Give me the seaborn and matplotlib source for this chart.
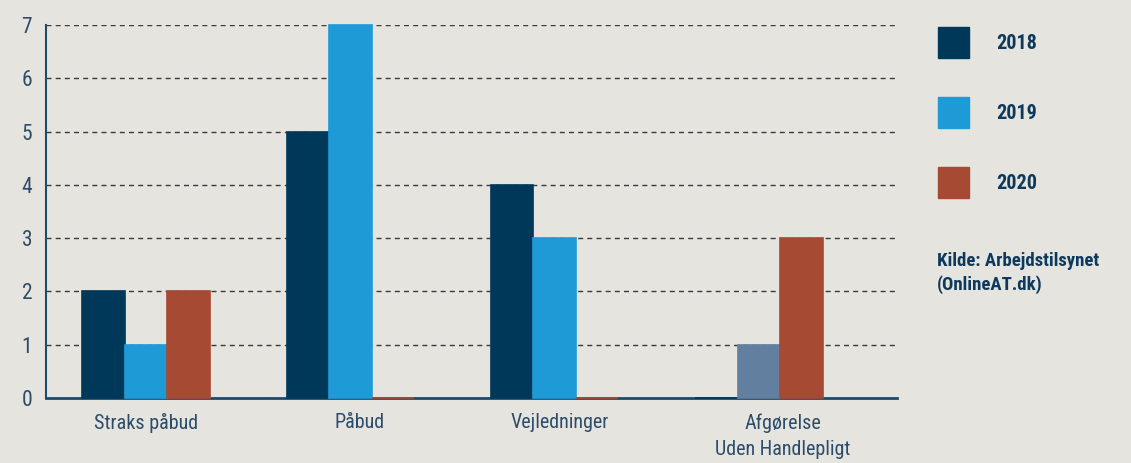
import pandas as pd
import matplotlib.pyplot as plt
import matplotlib.transforms as mtransforms
import seaborn as sns
from matplotlib.patches import Patch

# data
categories = ['Straks påbud', 'Påbud', 'Vejledninger', 'Afgørelse\nUden Handlepligt']
years = ['2018', '2019', '2020']
v2018 = [2, 5, 4, 0]
v2019 = [1, 7, 3, 1]
v2020 = [2, 0, 0, 3]
group_ticks = [0.509, 1.615, 2.50, 3.46]
label_shift_px = [0, 9, 5, 24]

colors = ['#003859', '#1e9ad6', '#a64a33']
bg = '#e6e4df'
navy = '#1f4a6b'

df = pd.DataFrame({
    'kategori': categories * 3,
    'år': [y for y in years for _ in categories],
    'antal': v2018 + v2019 + v2020,
})

sns.set_style('white')
plt.rcParams['font.family'] = ['Roboto Condensed', 'Roboto', 'DejaVu Sans']

fig = plt.figure(figsize=(11.31, 4.63), dpi=100, facecolor=bg)
ax = fig.add_axes([0.0407, 0.1404, 0.7524, 0.8056])
ax.set_facecolor(bg)

sns.barplot(data=df, x='kategori', y='antal', hue='år', palette=colors,
            width=0.625, gap=0, saturation=1, legend=False, ax=ax, zorder=3)
for cont, c in zip(ax.containers, colors):
    for bar in cont:
        bar.set_edgecolor(c)
        bar.set_linewidth(1.2)
        bar.set_clip_on(False)
# the 2019 bar for the last group is drawn in a muted blue in the original
ax.containers[1][3].set_facecolor('#637f9f')
ax.containers[1][3].set_edgecolor('#637f9f')

ax.set_xlim(-0.49, 3.676)
ax.set_ylim(0, 7)
ax.set_yticks(range(0, 8))
ax.set_xlabel('')
ax.set_ylabel('')

ax.set_axisbelow(True)
ax.yaxis.grid(True, color='#3a3a3a', linewidth=1.0, dashes=(3.6, 3))
ax.xaxis.grid(False)

sns.despine(ax=ax, top=True, right=True)
ax.spines['left'].set_color(navy)
ax.spines['left'].set_linewidth(1.5)
ax.spines['bottom'].set_color(navy)
ax.spines['bottom'].set_linewidth(2)
ax.spines['bottom'].set_zorder(2.5)

ax.tick_params(axis='y', length=0, pad=10, labelsize=15.5, labelcolor='#2b4c6a')
ax.tick_params(axis='x', which='major', length=0, pad=11, labelsize=14.5, labelcolor='#2b4c6a')
for lbl, dx in zip(ax.get_xticklabels(), label_shift_px):
    lbl.set_linespacing(1.45)
    lbl.set_transform(lbl.get_transform() +
                      mtransforms.ScaledTranslation(dx / 100, 0, fig.dpi_scale_trans))
ax.set_xticks(group_ticks, minor=True)
ax.tick_params(axis='x', which='minor', direction='in', length=6.5, width=1.5, color=navy)

handles = [Patch(facecolor=c, edgecolor=c) for c in colors]
leg = fig.legend(handles, years, loc='upper left', bbox_to_anchor=(0.8205, 0.963),
                 frameon=False, prop={'weight': 'bold', 'size': 14.5},
                 labelcolor='#0d3a5c', handlelength=1.54, handleheight=1.99,
                 labelspacing=1.94, handletextpad=1.34, borderpad=0)

fig.text(0.8285, 0.455, 'Kilde: Arbejdstilsynet\n(OnlineAT.dk)', fontsize=13.5,
         fontweight='bold', color='#0d3a5c', va='top', ha='left', linespacing=1.3)

fig.savefig('out.png', dpi=100, facecolor=bg)
